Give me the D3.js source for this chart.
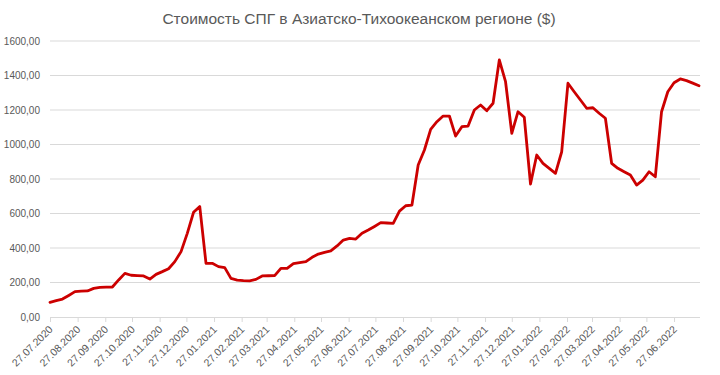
<!DOCTYPE html>
<html><head><meta charset="utf-8">
<script src="https://cdn.jsdelivr.net/npm/d3@7"></script>
<style>
body{margin:0;background:#fff;}
svg{display:block;font-family:"Liberation Sans",Arial,sans-serif;}
</style></head>
<body><svg id="c" width="720" height="375"></svg>
<script>
const title = "Стоимость СПГ в Азиатско-Тихоокеанском регионе ($)";
const startDate = "2020-07-27";
// weekly prices, one per week starting 27.07.2020
const prices = [
  85, 95, 104, 125, 147, 150, 151, 166, 172, 173,
  174, 215, 253, 242, 240, 238, 220, 247, 263, 280,
  321, 379, 485, 607, 640, 311, 311, 292, 286, 224,
  214, 211, 210, 218, 238, 239, 240, 282, 282, 309,
  315, 321, 346, 365, 375, 383, 412, 446, 456, 452,
  485, 504, 525, 547, 545, 543, 614, 645, 649, 881,
  968, 1088, 1132, 1165, 1165, 1049, 1103, 1107, 1200, 1229,
  1196, 1239, 1490, 1364, 1065, 1190, 1158, 771, 939, 891,
  862, 833, 958, 1355, 1306, 1258, 1210, 1213, 1181, 1152,
  891, 862, 842, 823, 765, 794, 842, 813, 1190, 1306,
  1358, 1380, 1370, 1356, 1341
];
const yTicks = [0, 200, 400, 600, 800, 1000, 1200, 1400, 1600];
const xTickLabels = ["27.07.2020","27.08.2020","27.09.2020","27.10.2020","27.11.2020","27.12.2020",
  "27.01.2021","27.02.2021","27.03.2021","27.04.2021","27.05.2021","27.06.2021",
  "27.07.2021","27.08.2021","27.09.2021","27.10.2021","27.11.2021","27.12.2021",
  "27.01.2022","27.02.2022","27.03.2022","27.04.2022","27.05.2022","27.06.2022"];

const parse = d3.timeParse("%d.%m.%Y");
const t0 = d3.timeParse("%Y-%m-%d")(startDate);
const data = prices.map((v, i) => ({date: d3.timeDay.offset(t0, 7 * i), value: v}));
const tickDates = xTickLabels.map(parse);

const svg = d3.select("#c");
const mLeft = 50, mRight = 700, mTop = 41, mBottom = 317;

const x = d3.scaleTime()
  .domain([t0, d3.timeDay.offset(t0, 7 * (prices.length - 1))])
  .range([mLeft, 699]);
const y = d3.scaleLinear().domain([0, 1600]).range([mBottom, mTop]);

svg.append("text")
  .attr("x", 359).attr("y", 24)
  .attr("text-anchor", "middle")
  .attr("fill", "#595959")
  .attr("font-size", 15.5)
  .text(title);

// gridlines
svg.append("g").selectAll("line").data(yTicks.filter(d => d > 0)).join("line")
  .attr("x1", mLeft).attr("x2", mRight)
  .attr("y1", d => y(d)).attr("y2", d => y(d))
  .attr("stroke", "#d9d9d9").attr("stroke-width", 1);

// y axis
const yAxis = d3.axisLeft(y).tickValues(yTicks).tickSize(0).tickPadding(10)
  .tickFormat(d => d3.format(".2f")(d).replace(".", ","));
const gy = svg.append("g").attr("transform", `translate(${mLeft},0)`).call(yAxis);
gy.select(".domain").remove();
gy.selectAll("text").attr("fill", "#595959").attr("font-size", 10)
  .attr("font-family", "Liberation Sans, Arial, sans-serif");

// x axis
const xAxis = d3.axisBottom(x).tickValues(tickDates).tickSize(5).tickSizeOuter(0)
  .tickFormat(d3.timeFormat("%d.%m.%Y"));
const gx = svg.append("g").attr("transform", `translate(0,${mBottom})`).call(xAxis);
gx.select(".domain").attr("d", `M${mLeft},0.5H${mRight}`).attr("stroke", "#d9d9d9");
gx.selectAll(".tick line").attr("stroke", "#d9d9d9");
gx.selectAll("text")
  .attr("fill", "#595959").attr("font-size", 10.5)
  .attr("font-family", "Liberation Sans, Arial, sans-serif")
  .attr("text-anchor", "end")
  .attr("y", 0)
  .attr("dy", null)
  .attr("transform", "translate(3,13) rotate(-45)");

// line
const line = d3.line().x(d => x(d.date)).y(d => y(d.value));
svg.append("path").datum(data)
  .attr("d", line)
  .attr("fill", "none")
  .attr("stroke", "#cc0000")
  .attr("stroke-width", 2.8)
  .attr("stroke-linejoin", "round")
  .attr("stroke-linecap", "round");
</script></body></html>
